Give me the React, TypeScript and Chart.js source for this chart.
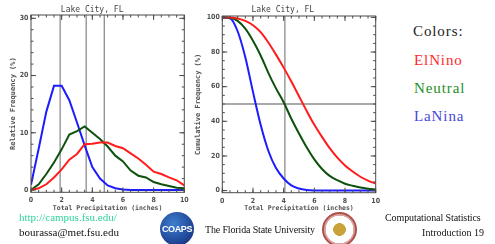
import React, { useEffect, useRef } from "react";
import { Chart, registerables } from "chart.js";

Chart.register(...registerables);

// ---------- data ----------
const precipInches = [0, 0.5, 1, 1.5, 2, 2.5, 3, 3.5, 4, 4.5, 5, 5.5, 6, 6.5, 7, 7.5, 8, 8.5, 9, 9.5, 10];

const relElNino = [0, 0.3, 1.0, 2.2, 3.6, 5.3, 6.3, 8.0, 8.1, 8.3, 8.3, 7.7, 7.3, 6.4, 5.5, 4.4, 3.2, 2.8, 2.2, 1.7, 0.8];
const relNeutral = [0, 1.0, 2.8, 4.8, 7.1, 9.7, 10.3, 11.1, 10.0, 8.9, 7.6, 6.0, 5.0, 3.4, 2.5, 2.2, 1.4, 1.0, 0.7, 0.4, 0.3];
const relLaNina = [0.9, 7.2, 13.7, 18.2, 18.2, 15.7, 11.8, 7.8, 4.0, 2.0, 0.8, 0.3, 0.1, 0, 0, 0, 0, 0, 0, 0, 0];

const cumElNino = [100, 100, 99.4, 98, 95.5, 91.5, 85.5, 78.5, 71, 63, 54.5, 46, 38, 31, 24.5, 19, 14.5, 11, 8, 5.8, 4];
const cumNeutral = [100, 99.8, 98, 93.5, 86.5, 78, 68, 59, 51, 41.5, 33, 25, 18, 12.5, 8.5, 6, 4, 2.8, 1.8, 1.1, 0.6];
const cumLaNina = [100, 99.5, 92, 77, 57, 38, 23, 13, 7, 3, 1.2, 0.4, 0.1, 0, 0, 0, 0, 0, 0, 0, 0];

const seriesNames = ["El Nino", "Neutral", "La Nina"];
const seriesColors = ["#ff1c1c", "#0c520c", "#1c1cff"];
const legendColors = ["#ff2a2a", "#1f8f1f", "#4646dc"];

const xTicks = [0, 2, 4, 6, 8, 10];
const relTicks = [0, 10, 20, 30];
const cumTicks = [0, 20, 40, 60, 80, 100];

const relRefLines = [1.9, 3.6, 4.78];
const cumRefX = [4.08];
const cumRefY = [50];

const chartTitle = "Lake City, FL";
const xTitle = "Total Precipitation (inches)";
const relTitle = "Relative Frequency (%)";
const cumTitle = "Cumulative Frequency (%)";

// ---------- helpers ----------
const MONO = "'DejaVu Sans Mono', monospace";
const NARROW = "'Liberation Sans Narrow', 'DejaVu Sans Condensed', 'DejaVu Sans', sans-serif";
const SERIF = "'Liberation Serif', 'DejaVu Serif', serif";
const AXIS_COLOR = "#4a4a4a";
const TEXT_COLOR = "#505050";

const idlFrame = {
  id: "idlFrame",
  beforeDatasetsDraw(chart: any, _args: any, opts: any) {
    const { ctx, chartArea: a, scales } = chart;
    ctx.save();
    ctx.strokeStyle = "#8c8c8c";
    ctx.lineWidth = 1.3;
    (opts.vLines || []).forEach((v: number) => {
      const px = scales.x.getPixelForValue(v);
      ctx.beginPath();
      ctx.moveTo(px, a.top);
      ctx.lineTo(px, a.bottom);
      ctx.stroke();
    });
    (opts.hLines || []).forEach((v: number) => {
      const py = scales.y.getPixelForValue(v);
      ctx.beginPath();
      ctx.moveTo(a.left, py);
      ctx.lineTo(a.right, py);
      ctx.stroke();
    });
    ctx.restore();
  },
  afterDraw(chart: any, _args: any, opts: any) {
    const { ctx, chartArea: a, scales } = chart;
    const xs = scales.x;
    const ys = scales.y;
    ctx.save();
    ctx.strokeStyle = AXIS_COLOR;
    ctx.lineWidth = 1;
    ctx.strokeRect(a.left, a.top, a.right - a.left, a.bottom - a.top);
    ctx.beginPath();
    const tickX = (v: number, len: number) => {
      const px = xs.getPixelForValue(v);
      ctx.moveTo(px, a.bottom);
      ctx.lineTo(px, a.bottom - len);
      ctx.moveTo(px, a.top);
      ctx.lineTo(px, a.top + len);
    };
    const tickY = (v: number, len: number) => {
      const py = ys.getPixelForValue(v);
      ctx.moveTo(a.left, py);
      ctx.lineTo(a.left + len, py);
      ctx.moveTo(a.right, py);
      ctx.lineTo(a.right - len, py);
    };
    for (let v = xs.min; v <= xs.max + 0.0001; v += opts.xMinor) tickX(v, 2.5);
    xs.ticks.forEach((t: any) => tickX(t.value, 5));
    const yStart = Math.ceil(ys.min / opts.yMinor) * opts.yMinor;
    for (let v = yStart; v <= ys.max; v += opts.yMinor) tickY(v, 2.5);
    ys.ticks.forEach((t: any) => tickY(t.value, 5));
    ctx.stroke();
    ctx.restore();
  },
};

type Cfg = {
  series: number[][];
  yMin: number;
  yMax: number;
  yTicks: number[];
  yMinor: number;
  yTitle: string;
  yTitlePadTop: number;
  yAxisWidth: number;
  xAxisHeight: number;
  padRight: number;
  titlePadTop: number;
  titlePadBottom: number;
  vLines: number[];
  hLines: number[];
  smooth: boolean;
};

function makeConfig(c: Cfg): any {
  const tickFont = { family: NARROW, size: 7, weight: "bold" };
  return {
    type: "line",
    data: {
      datasets: seriesNames.map((name, i) => ({
        label: name,
        data: precipInches.map((x, j) => ({ x, y: c.series[i][j] })),
        borderColor: seriesColors[i],
        backgroundColor: seriesColors[i],
        borderWidth: 2,
        pointRadius: 0,
        fill: false,
        tension: c.smooth ? 0.4 : 0,
        cubicInterpolationMode: c.smooth ? "monotone" : "default",
      })),
    },
    options: {
      responsive: false,
      animation: false,
      events: [],
      layout: { padding: { left: 0, right: c.padRight, top: 0, bottom: 0 } },
      plugins: {
        legend: { display: false },
        tooltip: { enabled: false },
        title: {
          display: true,
          text: chartTitle,
          color: "#444",
          font: { family: MONO, size: 8, weight: "normal" },
          padding: { top: c.titlePadTop, bottom: c.titlePadBottom },
        },
        idlFrame: { vLines: c.vLines, hLines: c.hLines, xMinor: 0.5, yMinor: c.yMinor },
      },
      scales: {
        x: {
          type: "linear",
          min: 0,
          max: 10,
          afterBuildTicks: (s: any) => {
            s.ticks = xTicks.map((v) => ({ value: v }));
          },
          afterFit: (s: any) => {
            s.height = c.xAxisHeight;
          },
          grid: { display: false, drawTicks: false },
          border: { display: false },
          ticks: { font: tickFont, color: TEXT_COLOR, padding: 4, maxRotation: 0, autoSkip: false },
          title: {
            display: true,
            text: xTitle,
            color: TEXT_COLOR,
            font: { family: MONO, size: 6.5, weight: "bold" },
            padding: { top: 0, bottom: 3 },
          },
        },
        y: {
          type: "linear",
          min: c.yMin,
          max: c.yMax,
          afterBuildTicks: (s: any) => {
            s.ticks = c.yTicks.map((v) => ({ value: v }));
          },
          afterFit: (s: any) => {
            s.width = c.yAxisWidth;
          },
          grid: { display: false, drawTicks: false },
          border: { display: false },
          ticks: { font: tickFont, color: TEXT_COLOR, padding: 2.5, autoSkip: false },
          title: {
            display: true,
            text: c.yTitle,
            color: TEXT_COLOR,
            font: { family: MONO, size: 7, weight: "bold" },
            padding: { top: c.yTitlePadTop, bottom: 0 },
          },
        },
      },
    },
    plugins: [idlFrame],
  };
}

const abs = (o: React.CSSProperties): React.CSSProperties => ({ position: "absolute", whiteSpace: "nowrap", ...o });

export default function App() {
  const leftRef = useRef<HTMLCanvasElement>(null);
  const rightRef = useRef<HTMLCanvasElement>(null);

  useEffect(() => {
    const left = new Chart(
      leftRef.current!,
      makeConfig({
        series: [relElNino, relNeutral, relLaNina],
        yMin: -0.4,
        yMax: 30.58,
        yTicks: relTicks,
        yMinor: 2,
        yTitle: relTitle,
        yTitlePadTop: 8.6,
        yAxisWidth: 31,
        xAxisHeight: 22.7,
        padRight: 10.7,
        titlePadTop: 5.2,
        titlePadBottom: 0.2,
        vLines: relRefLines,
        hLines: [],
        smooth: false,
      })
    );
    const right = new Chart(
      rightRef.current!,
      makeConfig({
        series: [cumElNino, cumNeutral, cumLaNina],
        yMin: -1.2,
        yMax: 100.8,
        yTicks: cumTicks,
        yMinor: 5,
        yTitle: cumTitle,
        yTitlePadTop: 3.6,
        yAxisWidth: 32.3,
        xAxisHeight: 22.3,
        padRight: 9.3,
        titlePadTop: 5.2,
        titlePadBottom: 1.2,
        vLines: cumRefX,
        hLines: cumRefY,
        smooth: true,
      })
    );
    return () => {
      left.destroy();
      right.destroy();
    };
  }, []);

  const legendFont: React.CSSProperties = { fontFamily: SERIF, fontSize: 15, letterSpacing: 0.9, lineHeight: "15px" };
  const smallFont: React.CSSProperties = { fontFamily: SERIF, fontSize: 10.5, lineHeight: "11px" };

  return (
    <div style={{ position: "fixed", left: 0, top: 0, width: 495, height: 244, background: "#fff", overflow: "hidden" }}>
      <canvas ref={leftRef} width={195} height={215} style={{ position: "absolute", left: 0, top: 0 }} />
      <canvas ref={rightRef} width={195} height={215} style={{ position: "absolute", left: 190, top: 0 }} />

      <div style={abs({ left: 413, top: 24, color: "#222", ...legendFont })}>Colors:</div>
      {seriesNames.map((n, i) => (
        <div key={n} style={abs({ left: 414, top: 53 + i * 28, color: legendColors[i], ...legendFont })}>
          {n.replace(" ", "")}
        </div>
      ))}

      <div style={abs({ left: 19, top: 212, color: "#2fd49c", ...smallFont, fontSize: 11 })}>http://campus.fsu.edu/</div>
      <div style={abs({ left: 19, top: 227, color: "#111", ...smallFont, fontSize: 11 })}>bourassa@met.fsu.edu</div>

      <div
        style={abs({
          left: 160,
          top: 212,
          width: 34,
          height: 34,
          borderRadius: "50%",
          background: "radial-gradient(circle at 40% 35%, #3f7fd0, #1b3f8f 70%, #0d2660)",
          color: "#fff",
          fontFamily: "'Liberation Sans Narrow', 'Liberation Sans', sans-serif",
          fontWeight: "bold",
          fontSize: 9,
          lineHeight: "34px",
          textAlign: "center",
          letterSpacing: -0.4,
        })}
      >
        COAPS
      </div>

      <div style={abs({ left: 205, top: 224, color: "#111", fontFamily: SERIF, fontSize: 10, lineHeight: "11px", letterSpacing: -0.15 })}>
        The Florida State University
      </div>

      <div
        style={abs({
          left: 322,
          top: 212,
          width: 31,
          height: 31,
          borderRadius: "50%",
          border: "2px solid #b0504a",
          background: "radial-gradient(circle, #c9a23a 0 28%, #fff 30% 62%, #d9a5a0 64% 100%)",
        })}
      />

      <div style={abs({ left: 385, top: 212, color: "#111", ...smallFont, fontSize: 10, letterSpacing: -0.1 })}>Computational Statistics</div>
      <div style={abs({ right: 11, top: 227, color: "#111", ...smallFont, fontSize: 10 })}>Introduction 19</div>
    </div>
  );
}
